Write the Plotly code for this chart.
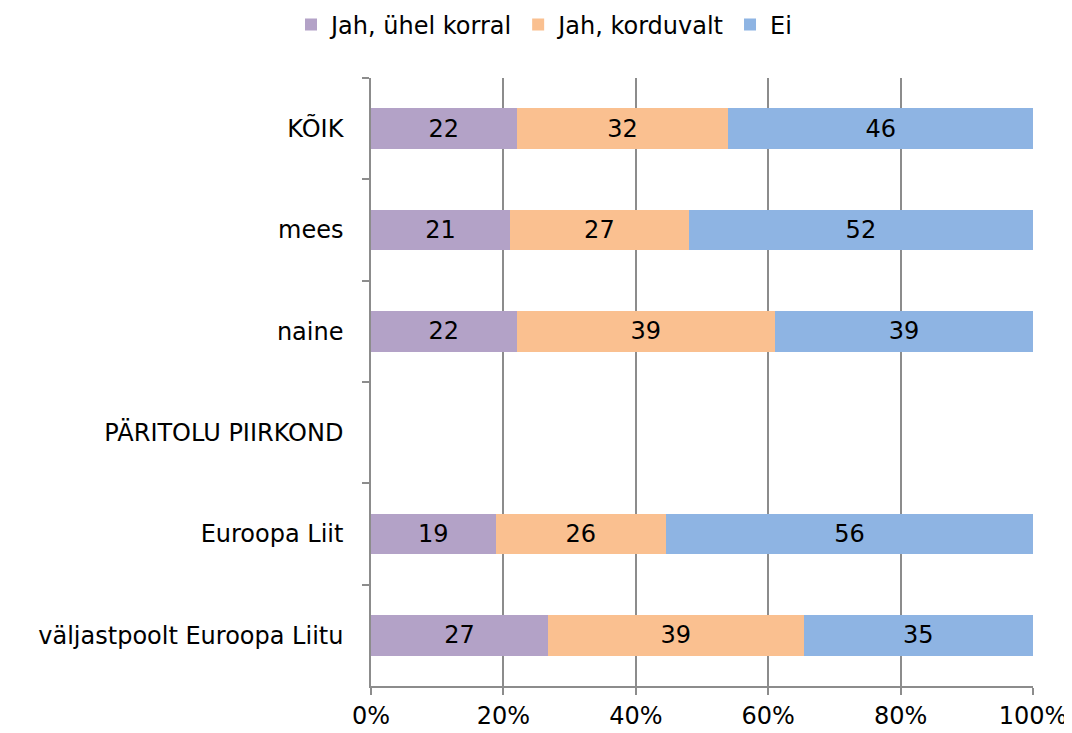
import plotly.graph_objects as go

categories = ["KÕIK", "mees", "naine", "PÄRITOLU PIIRKOND", "Euroopa Liit", "väljastpoolt Euroopa Liitu"]
series_names = ["Jah, ühel korral", "Jah, korduvalt", "Ei"]
once = [22, 21, 22, None, 19, 27]
repeat = [32, 27, 39, None, 26, 39]
no = [46, 52, 39, None, 56, 35]
colors = ["#B3A2C7", "#FAC090", "#8EB4E3"]
tick_vals = [0, 20, 40, 60, 80, 100]
tick_text = ["0%", "20%", "40%", "60%", "80%", "100%"]

FONT = "DejaVu Sans"
FS = 24
fig = go.Figure()
for name, vals, col in zip(series_names, [once, repeat, no], colors):
    fig.add_trace(go.Bar(
        y=categories, x=vals, name=name, orientation="h",
        marker=dict(color=col, line=dict(width=0)),
        text=[("" if v is None else str(v)) for v in vals],
        textposition="inside", insidetextanchor="middle", textangle=0,
        textfont=dict(family=FONT, size=FS, color="black"),
        hoverinfo="skip",
    ))

fig.update_layout(
    barmode="stack", barnorm="percent", bargap=0.6,
    width=1072, height=733,
    margin=dict(l=363, r=47, t=70, b=55),
    paper_bgcolor="white", plot_bgcolor="white",
    font=dict(family=FONT, size=FS, color="black"),
    uniformtext=dict(minsize=FS, mode="show"),
    legend=dict(orientation="h", x=0.5, xref="container", xanchor="center",
                y=0.977, yref="container", yanchor="middle",
                font=dict(family=FONT, size=FS), traceorder="normal",
                itemwidth=30, tracegroupgap=0),
    showlegend=True,
)
fig.update_xaxes(range=[0, 100], tickvals=tick_vals, ticktext=tick_text,
                 showgrid=True, gridcolor="#8c8c8c", gridwidth=1.5,
                 showline=True, linecolor="#8c8c8c", linewidth=1.5,
                 ticks="outside", ticklen=7, tickcolor="#8c8c8c", tickwidth=1.5,
                 zeroline=False, fixedrange=True)
fig.update_yaxes(categoryorder="array", categoryarray=categories, autorange="reversed",
                 tickson="boundaries", ticks="outside", ticklen=7, tickcolor="#8c8c8c",
                 tickwidth=1.5, showline=True, linecolor="#8c8c8c", linewidth=1.5,
                 showgrid=False, ticklabelstandoff=21, fixedrange=True)
fig.write_html("out.html")
